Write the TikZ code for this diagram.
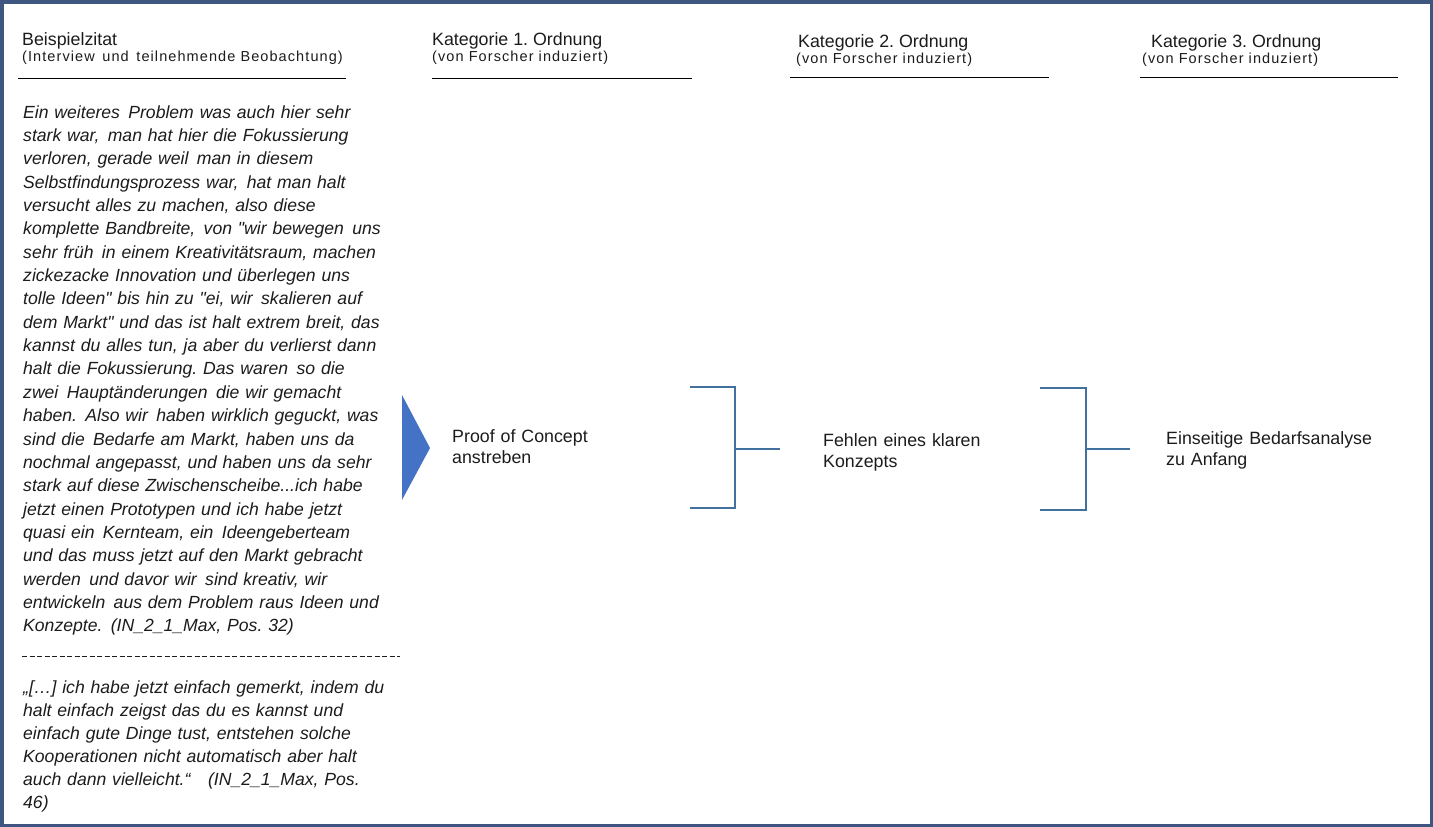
\documentclass[tikz,border=0pt]{standalone}
\usepackage{fontspec}
\setmainfont{Liberation Sans}
\newfontfamily\subfont[LetterSpace=7.5]{Liberation Sans}
\definecolor{framecol}{RGB}{62,86,128}
\definecolor{bracecol}{RGB}{65,113,156}
\definecolor{arrowcol}{RGB}{68,114,196}
\definecolor{ink}{RGB}{28,28,28}
\newcommand{\dq}{\textquotedbl}
\newcommand{\xs}{\hspace{2.5pt}}
\frenchspacing
\begin{document}
\begin{tikzpicture}[x=1pt,y=-1pt,
  hdtext/.style={anchor=base west, inner sep=0pt, font=\fontsize{17.8}{21}\selectfont, text=ink},
  subtext/.style={anchor=base west, inner sep=0pt, font=\subfont\fontsize{14.5}{16}\selectfont, text=ink},
  quotetext/.style={anchor=base west, inner sep=0pt, text width=400pt, align=left,
    font=\fontsize{17.6}{23.36}\selectfont\itshape, text=ink},
  cattext/.style={anchor=base west, inner sep=0pt, text width=250pt, align=left,
    font=\fontsize{17.8}{21}\selectfont, text=ink},
  headrule/.style={draw=black, line width=1.3pt},
  bracket/.style={draw=bracecol, line width=1.1pt},
]
\useasboundingbox (0,0) rectangle (1433,827);
\fill[white] (0,0) rectangle (1433,827);
\draw[framecol, line width=3.5pt] (1.75,1.75) rectangle (1431.25,825.25);

% column headings
\node[hdtext]  (h0)  at (22,45.7)  {Beispielzitat};
\node[subtext] (s0)  at (22,61.5)  {(Interview\xs{} und\xs{} teilnehmende Beobachtung)};
\node[hdtext]  (h1)  at (432,45.7) {Kategorie 1. Ordnung};
\node[subtext] (s1)  at (432,61.5) {(von Forscher induziert)};
\node[hdtext]  (h2)  at (798,47.3) {Kategorie 2. Ordnung};
\node[subtext] (s2)  at (796,63)   {(von Forscher induziert)};
\node[hdtext]  (h3)  at (1151,47.3){Kategorie 3. Ordnung};
\node[subtext] (s3)  at (1142,63)  {(von Forscher induziert)};

% rules under the headings
\coordinate (r0a) at (18,78.5);   \coordinate (r0b) at (346,78.5);
\coordinate (r1a) at (432,78.5);  \coordinate (r1b) at (692,78.5);
\coordinate (r2a) at (790,77.5);  \coordinate (r2b) at (1049,77.5);
\coordinate (r3a) at (1140,77.5); \coordinate (r3b) at (1398,77.5);
\draw[headrule] (r0a) -- (r0b);
\draw[headrule] (r1a) -- (r1b);
\draw[headrule] (r2a) -- (r2b);
\draw[headrule] (r3a) -- (r3b);

% interview quotes
\node[quotetext] (q1) at (23,118) {Ein weiteres\xs{} Problem was auch hier sehr\\
stark war,\xs{} man hat hier die Fokussierung\\
verloren, gerade weil\xs{} man in diesem\\
Selbstfindungsprozess war,\xs{} hat man halt\\
versucht alles zu machen, also diese\\
komplette Bandbreite,\xs{} von \dq wir bewegen\xs{} uns\\
sehr früh\xs{} in einem Kreativitätsraum, machen\\
zickezacke Innovation und überlegen uns\\
tolle Ideen\dq\ bis hin zu \dq ei, wir\xs{} skalieren auf\\
dem Markt\dq\ und das ist halt extrem breit, das\\
kannst du alles tun, ja aber du verlierst dann\\
halt die Fokussierung. Das waren\xs{} so die\\
zwei\xs{} Hauptänderungen\xs{} die wir gemacht\\
haben.\xs{} Also wir\xs{} haben wirklich geguckt, was\\
sind die\xs{} Bedarfe am Markt, haben uns da\\
nochmal angepasst, und haben uns da sehr\\
stark auf diese Zwischenscheibe...ich habe\\
jetzt einen Prototypen und ich habe jetzt\\
quasi ein\xs{} Kernteam, ein\xs{} Ideengeberteam\\
und das muss jetzt auf den Markt gebracht\\
werden\xs{} und davor wir\xs{} sind kreativ, wir\\
entwickeln\xs{} aus dem Problem raus Ideen und\\
Konzepte.\xs{} (IN\_2\_1\_Max, Pos. 32)};

\coordinate (da) at (22,656);
\coordinate (db) at (400,656);
\draw[ink, line width=1pt, dash pattern=on 5pt off 2.5pt] (da) -- (db);

\node[quotetext, font=\fontsize{17.6}{23}\selectfont\itshape] (q2) at (23,693)
{„[…] ich habe jetzt einfach gemerkt, indem du\\
halt einfach zeigst das du es kannst und\\
einfach gute Dinge tust, entstehen solche\\
Kooperationen nicht automatisch aber halt\\
auch dann vielleicht.“\ \ \ (IN\_2\_1\_Max, Pos.\\
46)};

% arrow into the first category
\fill[arrowcol] (402,395) -- (430,448) -- (402,500) -- cycle;

% categories
\node[cattext] (c1) at (452,442.7) {Proof of Concept\\anstreben};
\node[cattext] (c2) at (823,446.5) {Fehlen eines klaren\\Konzepts};
\node[cattext] (c3) at (1166,444)  {Einseitige Bedarfsanalyse\\zu Anfang};

% brackets joining the levels
\coordinate (b1t) at (690,387);  \coordinate (b1u) at (735,387);
\coordinate (b1b) at (690,508);  \coordinate (b1l) at (735,508);
\coordinate (b1m) at (735,449);  \coordinate (b1e) at (780,449);
\draw[bracket] (b1t) -- (b1u) -- (b1l) -- (b1b);
\draw[bracket] (b1m) -- (b1e);

\coordinate (b2t) at (1040,388); \coordinate (b2u) at (1086,388);
\coordinate (b2b) at (1040,510); \coordinate (b2l) at (1086,510);
\coordinate (b2m) at (1086,449); \coordinate (b2e) at (1130,449);
\draw[bracket] (b2t) -- (b2u) -- (b2l) -- (b2b);
\draw[bracket] (b2m) -- (b2e);
\end{tikzpicture}
\end{document}
